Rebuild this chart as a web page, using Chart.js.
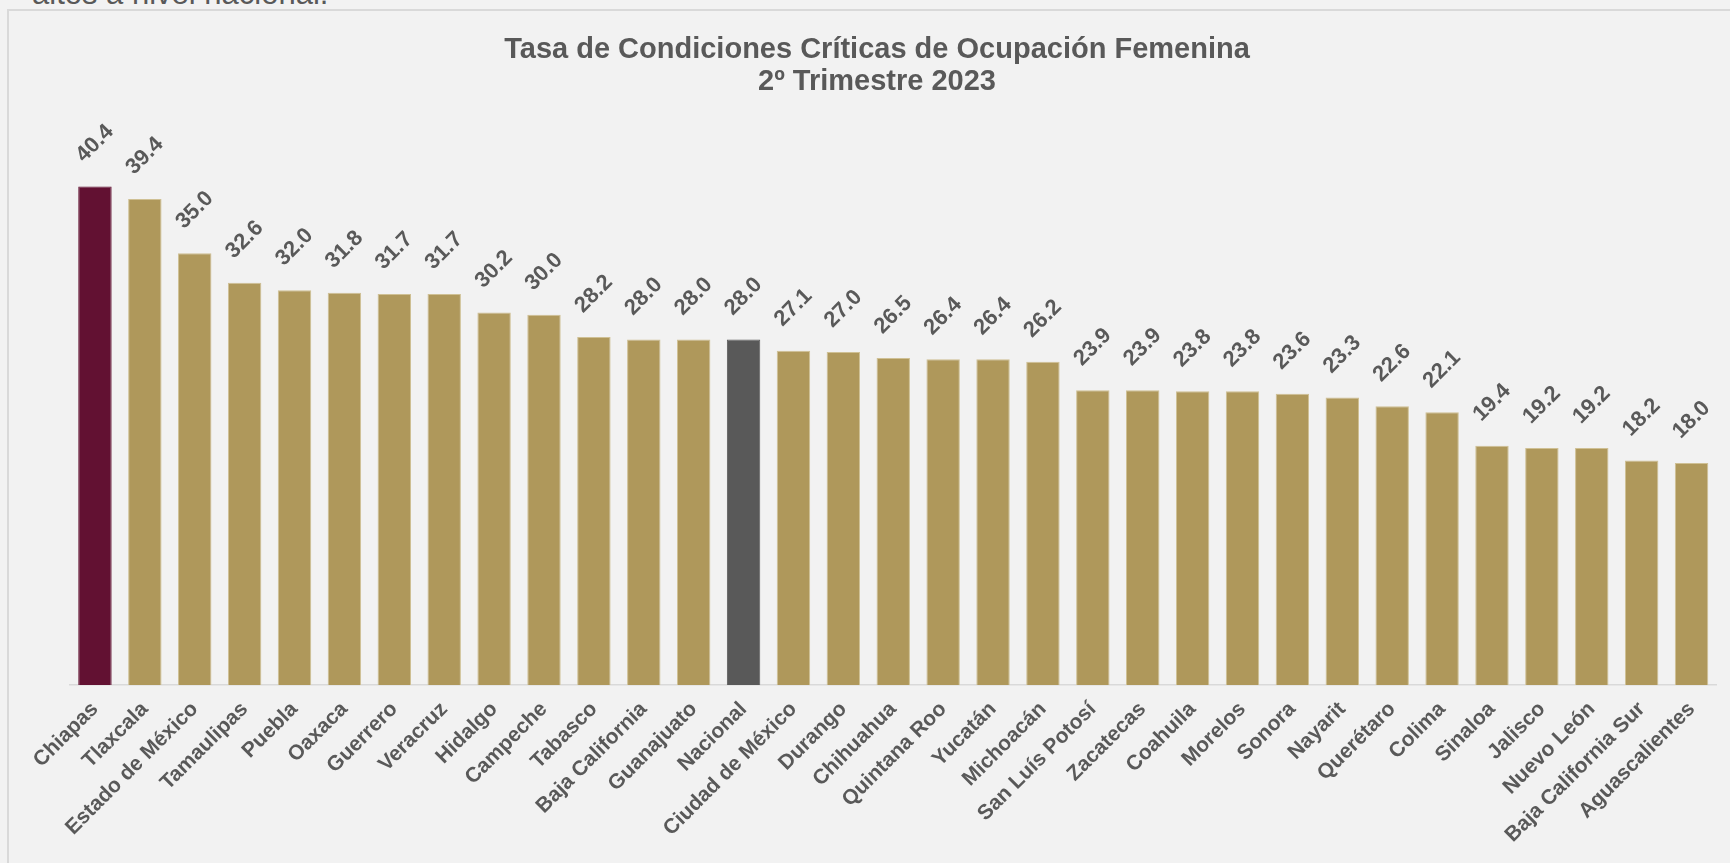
<!DOCTYPE html>
<html lang="es">
<head>
<meta charset="utf-8">
<title>Tasa de Condiciones Críticas de Ocupación Femenina</title>
<script src="https://cdn.jsdelivr.net/npm/chart.js@4.4.1/dist/chart.umd.min.js"></script>
<style>
  html, body { margin: 0; padding: 0; background: #F2F2F2; overflow: hidden; }
  body { width: 1730px; height: 863px; position: relative; }
  .intro { position: absolute; left: 32px; top: -22px; font: 31px/1 'Liberation Sans', Arial, sans-serif; color: #595959; white-space: nowrap; }
  .frame { position: absolute; left: 7px; top: 9px; width: 1740px; height: 880px; border: 2px solid #D9D9D9; box-sizing: border-box; }
  #chart { position: absolute; left: 0; top: 0; }
</style>
</head>
<body>
<div class="intro">altos a nivel nacional.</div>
<div class="frame"></div>
<canvas id="chart" width="1730" height="863"></canvas>
<script>
let estados = ['Chiapas', 'Tlaxcala', 'Estado de México', 'Tamaulipas', 'Puebla', 'Oaxaca', 'Guerrero',
    'Veracruz', 'Hidalgo', 'Campeche', 'Tabasco', 'Baja California', 'Guanajuato', 'Nacional',
    'Ciudad de México', 'Durango', 'Chihuahua', 'Quintana Roo', 'Yucatán', 'Michoacán',
    'San Luís Potosí', 'Zacatecas', 'Coahuila', 'Morelos', 'Sonora', 'Nayarit', 'Querétaro',
    'Colima', 'Sinaloa', 'Jalisco', 'Nuevo León', 'Baja California Sur', 'Aguascalientes'];
let tasas = [40.4, 39.4, 35.0, 32.6, 32.0, 31.8, 31.7, 31.7, 30.2, 30.0, 28.2, 28.0, 28.0, 28.0,
    27.1, 27.0, 26.5, 26.4, 26.4, 26.2, 23.9, 23.9, 23.8, 23.8, 23.6, 23.3, 22.6,
    22.1, 19.4, 19.2, 19.2, 18.2, 18.0];
let titulo = ['Tasa de Condiciones Críticas de Ocupación Femenina', '2º Trimestre 2023'];

let fuente = "'Liberation Sans', Arial, sans-serif";
let gris = '#595959';

let colores = estados.map(e => e === 'Chiapas' ? '#621132' : (e === 'Nacional' ? '#595959' : '#AF985B'));
let bordes = estados.map(e => e === 'Chiapas' ? '#621132' : (e === 'Nacional' ? '#595959' : '#CFC094'));

// value labels, rotated like the original
let etiquetas = {
    id: 'etiquetas',
    afterDatasetsDraw(chart) {
        let ctx = chart.ctx;
        let meta = chart.getDatasetMeta(0);
        ctx.save();
        ctx.fillStyle = gris;
        ctx.font = 'bold 22px ' + fuente;
        ctx.textAlign = 'center';
        ctx.textBaseline = 'middle';
        meta.data.forEach((bar, i) => {
            ctx.save();
            ctx.translate(bar.x, bar.y - 43);
            ctx.rotate(-Math.PI / 4);
            ctx.fillText(tasas[i].toFixed(1), 0, 0);
            ctx.restore();
        });
        ctx.restore();
    }
};

let ctx = document.getElementById('chart').getContext('2d');

let grafica = new Chart(ctx, {
    type: 'bar',
    data: {
        labels: estados,
        datasets: [{
            data: tasas,
            backgroundColor: colores,
            borderColor: bordes,
            borderWidth: 1,
            barPercentage: 0.67,
            categoryPercentage: 1
        }]
    },
    options: {
        responsive: false,
        animation: false,
        layout: {
            padding: { left: 37.5, right: 13.5, top: 0, bottom: 0 }
        },
        plugins: {
            legend: { display: false },
            tooltip: { enabled: false },
            title: {
                display: true,
                text: titulo,
                color: gris,
                font: { family: fuente, size: 29, weight: 'bold', lineHeight: 1.1 },
                padding: { top: 34.5, bottom: 31.5 }
            }
        },
        scales: {
            x: {
                grid: { display: false, drawTicks: false },
                border: { display: true, color: '#D9D9D9', width: 1.5 },
                ticks: {
                    autoSkip: false,
                    minRotation: 45,
                    maxRotation: 45,
                    padding: 12,
                    color: gris,
                    font: { family: fuente, size: 21, weight: 'bold' }
                },
                afterFit(s) {
                    s.height = 178;
                    s.paddingLeft = 0;
                    s.paddingRight = 0;
                }
            },
            y: {
                min: 0,
                max: 45,
                grid: { display: false },
                border: { display: false },
                ticks: { display: false },
                afterFit(s) {
                    s.width = 32.5;
                }
            }
        }
    },
    plugins: [etiquetas]
});
</script>
</body>
</html>
